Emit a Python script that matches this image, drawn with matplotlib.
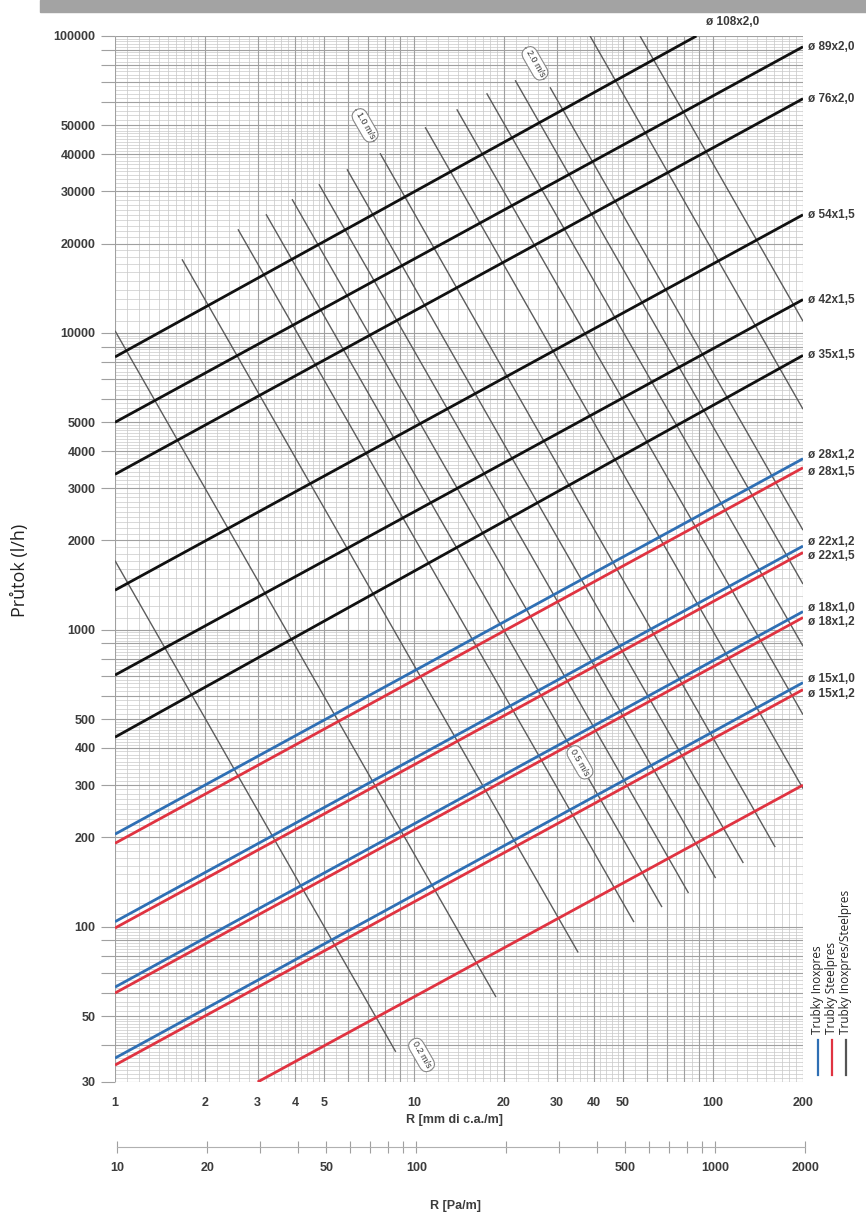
import numpy as np
import matplotlib
matplotlib.use("Agg")
import matplotlib.pyplot as plt
from matplotlib.patches import Rectangle
from matplotlib.ticker import FixedLocator, FuncFormatter, NullLocator

# --- axis labels / ticks ---
r_ticks = [1, 2, 3, 4, 5, 10, 20, 30, 40, 50, 100, 200]
q_ticks = [30, 50, 100, 200, 300, 400, 500, 1000, 2000, 3000, 4000, 5000,
           10000, 20000, 30000, 40000, 50000, 100000]
pa_labeled = [10, 20, 50, 100, 500, 1000, 2000]
pa_minor = [30, 40, 60, 70, 80, 90, 200, 300, 400, 600, 700, 800, 900]

# --- pipe lines: (R, Q) at both ends ---
black_names = ["ø 108x2,0", "ø 89x2,0", "ø 76x2,0", "ø 54x1,5", "ø 42x1,5", "ø 35x1,5"]
black_r0 = [1, 1, 1, 1, 1, 1]
black_q0 = [8300, 5000, 3340, 1360, 704, 435]
black_r1 = [88, 200, 200, 200, 200, 200]
black_q1 = [100000, 92000, 61500, 25000, 12950, 8400]

inox_names = ["ø 28x1,2", "ø 22x1,2", "ø 18x1,0", "ø 15x1,0"]
inox_q0 = [205, 104, 62.6, 36.1]
inox_q1 = [3770, 1915, 1152, 664]

steel_names = ["ø 28x1,5", "ø 22x1,5", "ø 18x1,2", "ø 15x1,2", ""]
steel_r0 = [1, 1, 1, 1, 3]
steel_q0 = [191, 99, 59.8, 34.2, 30]
steel_q1 = [3515, 1822, 1100, 629, 300]

# --- velocity lines (top end -> bottom end) ---
vel_r_top = [1, 1, 1.675, 2.578, 3.20, 3.91, 4.81, 5.97, 7.70, 10.9, 13.9, 17.5, 21.8, 28.5, 38.8, 57.0]
vel_q_top = [1710, 10170, 17700, 22340, 25100, 28200, 31680, 35570, 40280, 49270, 56650,
             64130, 70940, 67200, 100000, 100000]
vel_r_bot = [8.69, 18.8, 35.4, 54.4, 67.5, 82.8, 102, 126.3, 161.4, 200, 200, 200, 200, 200, 200, 200]
vel_q_bot = [37.9, 58.0, 81.9, 103.7, 116.5, 129.9, 145.9, 163.9, 185.5, 292, 518, 881,
             1426, 2166, 5536, 10950]

vel_labels = ["0.2 m/s", "0.5 m/s", "1.0 m/s", "2.0 m/s"]
vel_label_r = [10.6, 35.9, 6.86, 25.4]
vel_label_q = [37.0, 358, 50000, 80900]

W, H = 866, 1227
BLUE = "#2f6fb4"
RED = "#e03341"
GRAY = "#5c5c5c"
TICKFONT = ["Liberation Sans", "DejaVu Sans"]

fig = plt.figure(figsize=(W / 100, H / 100), dpi=100)
fig.patches.append(Rectangle((40 / W, 1 - 12 / H), 1, 12 / H, transform=fig.transFigure,
                             color="#a3a3a3", zorder=0))

ax = fig.add_axes([115 / W, 1 - 1082 / H, 688 / W, (1082 - 36) / H])
ax.set_xscale("log")
ax.set_yscale("log")
ax.set_xlim(1, 200)
ax.set_ylim(30, 100000)
for s in ax.spines.values():
    s.set_visible(False)


def paper_lines(steps):
    # sub-divisions of every decade for the log paper
    out = []
    for e in range(0, 6):
        base = 10.0 ** e
        for lo, hi, st in steps:
            for v in np.arange(lo, hi - st / 2, st):
                if abs(v - round(v)) > 0.02:
                    out.append(v * base)
    return out


main_vals = [k * 10.0 ** e for e in range(0, 6) for k in range(1, 10)]
xs_fine = [v for v in paper_lines([(1, 2, 0.1), (2, 5, 0.2), (5, 10, 0.5)]) if 1 < v < 200]
ys_fine = [v for v in paper_lines([(1, 2, 0.1), (2, 5, 0.1), (5, 10, 0.2)]) if 30 < v < 100000]
xs_main = [v for v in main_vals if 1 <= v <= 200]
ys_main = [v for v in main_vals if 30 <= v <= 100000]
ax.vlines(xs_fine, 30, 100000, color="#c6c6c6", lw=0.5, zorder=1)
ax.hlines(ys_fine, 1, 200, color="#c9c9c9", lw=0.5, zorder=1)
ax.vlines(xs_main, 30, 100000, color="#a0a0a0", lw=0.8, zorder=1)
ax.hlines(ys_main, 1, 200, color="#a0a0a0", lw=0.8, zorder=1)

# velocity lines
for rt, qt, rb, qb in zip(vel_r_top, vel_q_top, vel_r_bot, vel_q_bot):
    ax.plot([rt, rb], [qt, qb], color=GRAY, lw=1.0, zorder=2, solid_capstyle="butt")
for txt, r, q in zip(vel_labels, vel_label_r, vel_label_q):
    ax.text(r, q, txt, rotation=-60, ha="center", va="center", fontsize=6.5,
            family=TICKFONT, color="#333333", zorder=5,
            bbox=dict(boxstyle="round,pad=0.35,rounding_size=0.9", fc="white", ec="#888888", lw=0.8))

# pipe lines
for name, r0, q0, r1, q1 in zip(black_names, black_r0, black_q0, black_r1, black_q1):
    ax.plot([r0, r1], [q0, q1], color="#111111", lw=2.0, zorder=4, solid_capstyle="butt")
for q0, q1 in zip(inox_q0, inox_q1):
    ax.plot([1, 200], [q0, q1], color=BLUE, lw=2.0, zorder=4, solid_capstyle="butt")
for r0, q0, q1 in zip(steel_r0, steel_q0, steel_q1):
    ax.plot([r0, 200], [q0, q1], color=RED, lw=2.0, zorder=4, solid_capstyle="butt")

# pipe names at the right
lab = dict(fontsize=8.5, family=TICKFONT, fontweight="bold", color="#3a3a3a",
           va="center", ha="left", annotation_clip=False)
ax.annotate(black_names[0], (black_r1[0], black_q1[0]), xytext=(10, 14), textcoords="offset pixels", **lab)
for name, q in zip(black_names[1:], black_q1[1:]):
    ax.annotate(name, (200, q), xytext=(5, 0), textcoords="offset pixels", **lab)
for name, q in zip(inox_names, inox_q1):
    ax.annotate(name, (200, q), xytext=(5, 4), textcoords="offset pixels", **lab)
for name, q in zip(steel_names, steel_q1):
    if name:
        ax.annotate(name, (200, q), xytext=(5, -4), textcoords="offset pixels", **lab)

# ticks
ax.yaxis.set_major_locator(FixedLocator(ys_main))
ax.yaxis.set_minor_locator(NullLocator())
ax.yaxis.set_major_formatter(FuncFormatter(lambda v, p: f"{int(round(v))}" if round(v) in q_ticks else ""))
ax.tick_params(axis="y", length=10, width=0.8, color="#a0a0a0", pad=4, labelsize=9,
               labelcolor="#3c3c3c")
ax.xaxis.set_major_locator(FixedLocator(r_ticks))
ax.xaxis.set_minor_locator(NullLocator())
ax.xaxis.set_major_formatter(FuncFormatter(lambda v, p: f"{int(round(v))}"))
ax.tick_params(axis="x", length=0, pad=11, labelsize=9, labelcolor="#3c3c3c")
for t in ax.get_xticklabels() + ax.get_yticklabels():
    t.set_family(TICKFONT)
    t.set_fontweight("bold")

fig.text(455 / W, 1 - 1120 / H, "R [mm di c.a./m]", ha="center", va="center", fontsize=9,
         family=TICKFONT, fontweight="bold", color="#3c3c3c")

# Pa/m scale (10 Pa/m ~ 1.02 mm/m)
pa0, pa1 = 9.81, 2010.0
px0 = 115
px1 = 115 + 688 * np.log10(pa1 / pa0) / np.log10(200)
ax2 = fig.add_axes([px0 / W, 1 - 1147 / H, (px1 - px0) / W, 0.0001])
ax2.set_xscale("log")
ax2.set_xlim(pa0, pa1)
ax2.set_yticks([])
ax2.patch.set_visible(False)
for side in ["left", "right", "top"]:
    ax2.spines[side].set_visible(False)
ax2.spines["bottom"].set_color("#b0b0b0")
ax2.spines["bottom"].set_bounds(10, 2000)
ax2.xaxis.set_major_locator(FixedLocator(sorted(pa_labeled + pa_minor)))
ax2.xaxis.set_minor_locator(NullLocator())
ax2.xaxis.set_major_formatter(FuncFormatter(lambda v, p: f"{int(round(v))}" if round(v) in pa_labeled else ""))
ax2.tick_params(axis="x", direction="inout", length=9, width=0.8, color="#a0a0a0", pad=6,
                labelsize=9, labelcolor="#3c3c3c")
for t in ax2.get_xticklabels():
    t.set_family(TICKFONT)
    t.set_fontweight("bold")
fig.text(455 / W, 1 - 1206 / H, "R [Pa/m]", ha="center", va="center", fontsize=9,
         family=TICKFONT, fontweight="bold", color="#3c3c3c")

# y title
fig.text(20 / W, 1 - 570 / H, "Průtok (l/h)", rotation=90, ha="center", va="center",
         fontsize=13, family=["Open Sans", "DejaVu Sans"], color="#222222")

# legend
legend_txt = ["Trubky Inoxpres", "Trubky Steelpres", "Trubky Inoxpres/Steelpres"]
legend_col = [BLUE, RED, "#555555"]
for i, (txt, c) in enumerate(zip(legend_txt, legend_col)):
    x = (818 + 14 * i) / W
    fig.add_artist(plt.Line2D([x, x], [1 - 1075 / H, 1 - 1040 / H], color=c, lw=1.6,
                              transform=fig.transFigure))
    fig.text(x, 1 - 1034 / H, txt, rotation=90, ha="center", va="bottom", fontsize=8.5,
             family=["Open Sans", "DejaVu Sans"], color="#222222")

fig.savefig("out.png", dpi=100)
